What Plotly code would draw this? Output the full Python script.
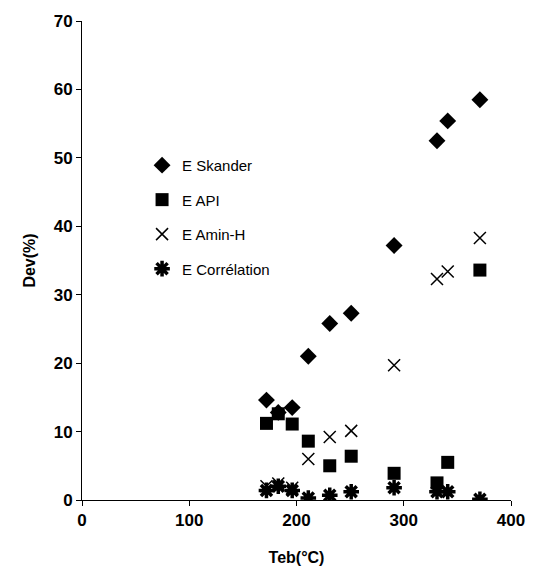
import plotly.graph_objects as go

teb = [172, 183, 196, 211, 231, 251, 291, 331, 341, 371]
e_skander = [14.6, 12.8, 13.5, 21.0, 25.8, 27.3, 37.2, 52.5, 55.4, 58.5]
e_api = [11.2, 12.6, 11.1, 8.6, 5.0, 6.4, 3.9, 2.5, 5.5, 33.6]
e_amin = [2.0, 2.4, 1.8, 6.0, 9.2, 10.1, 19.7, 32.3, 33.4, 38.3]
e_corr = [1.4, 2.0, 1.4, 0.3, 0.7, 1.2, 1.8, 1.2, 1.2, 0.1]

series = [
    ("E Skander", e_skander, dict(symbol="diamond", size=13, color="black")),
    ("E API", e_api, dict(symbol="square", size=13, color="black")),
    ("E Amin-H", e_amin, dict(symbol="x-thin-open", size=12, color="black", line=dict(width=1.5, color="black"))),
    ("E Corrélation", e_corr, dict(symbol="asterisk-open", size=13, color="black", line=dict(width=3.5, color="black"))),
]

fig = go.Figure()
for i, (name, vals, mk) in enumerate(series):
    fig.add_trace(go.Scatter(x=teb, y=vals, mode="markers", name=name, marker=mk,
                             legendgroup=str(i)))

fam = "Liberation Sans, Arial"
fig.update_layout(
    width=537, height=583,
    margin=dict(l=82, r=20, t=15, b=83),
    paper_bgcolor="white", plot_bgcolor="white",
    font=dict(family=fam, color="black"),
    showlegend=True,
    legend=dict(x=0.14, y=0.733, xanchor="left", yanchor="top",
                bgcolor="rgba(0,0,0,0)", traceorder="grouped", tracegroupgap=12,
                font=dict(family=fam, size=15, color="black"),
                itemwidth=30),
)
fig.update_xaxes(range=[0, 400], tickvals=[0, 100, 200, 300, 400],
                 showline=True, linecolor="black", linewidth=1, showgrid=False, zeroline=False,
                 ticks="outside", ticklen=5, tickcolor="black",
                 tickfont=dict(family=fam, size=17, color="black", weight="bold"),
                 title=dict(text="<b>Teb(°C)</b>", font=dict(family=fam, size=16, color="black"), standoff=22))
fig.update_yaxes(range=[0, 70], tickvals=[0, 10, 20, 30, 40, 50, 60, 70],
                 showline=True, linecolor="black", linewidth=1, showgrid=False, zeroline=False,
                 ticks="outside", ticklen=5, tickcolor="black",
                 tickfont=dict(family=fam, size=17, color="black", weight="bold"),
                 title=dict(text="<b>Dev(%)</b>", font=dict(family=fam, size=16, color="black"), standoff=14))
fig.write_html("out.html")
